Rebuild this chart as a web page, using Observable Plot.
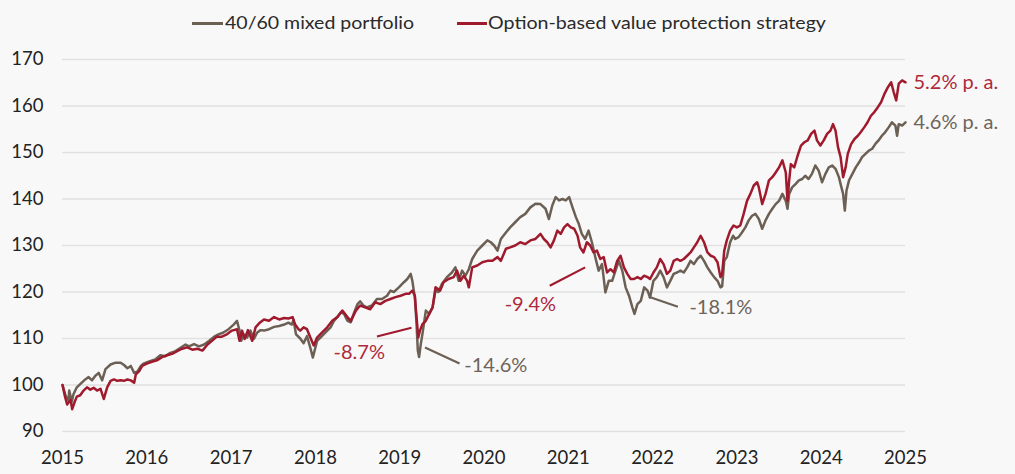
<!DOCTYPE html>
<html>
<head>
<meta charset="utf-8">
<script src="https://cdn.jsdelivr.net/npm/d3@7"></script>
<script src="https://cdn.jsdelivr.net/npm/@observablehq/plot@0.6"></script>
<style>
  html, body { margin: 0; padding: 0; background: #f8f8f8; }
  #chart { width: 1015px; }
  #legend { position: relative; width: 1015px; height: 45px; font-family: Lato, 'Open Sans', sans-serif; font-size: 17.5px; color: #2a2a2a; }
  #legend .sw { position: absolute; top: 22px; height: 3px; }
  #legend .lb { position: absolute; top: 13.5px; line-height: 17.5px; white-space: nowrap; transform-origin: 0 50%; }
</style>
</head>
<body>
<div id="chart"></div>
<script>
// ---- data (decimal year, index value) ----
const seriesNames = ["40/60 mixed portfolio", "Option-based value protection strategy"];
const xTicks = [2015, 2016, 2017, 2018, 2019, 2020, 2021, 2022, 2023, 2024, 2025];
const yTicks = [90, 100, 110, 120, 130, 140, 150, 160, 170];
const endLabels = ["4.6% p. a.", "5.2% p. a."];

const mixed = [
[2015.00,100],[2015.04,97.5],[2015.07,96.8],[2015.08,98.8],[2015.11,96.4],[2015.13,98],[2015.17,99.5],[2015.21,100.2],[2015.27,101.2],[2015.31,101.7],[2015.35,101],[2015.39,102],[2015.43,102.6],[2015.47,101],[2015.51,103.4],[2015.57,104.4],[2015.63,104.8],[2015.69,104.8],[2015.73,104.3],[2015.77,103.6],[2015.81,104.1],[2015.85,102.6],[2015.89,102.9],[2015.93,104.1],[2015.96,104.6],
[2016.02,105],[2016.10,105.5],[2016.16,106.4],[2016.22,106.2],[2016.28,106.9],[2016.34,107.3],[2016.40,108],[2016.46,108.7],[2016.50,108.3],[2016.56,108.8],[2016.62,108.3],[2016.68,108.7],[2016.74,109.5],[2016.80,110.4],[2016.85,110.9],[2016.91,111.3],[2016.97,112],
[2017.03,113],[2017.07,113.8],[2017.10,111.7],[2017.12,109.5],[2017.15,110.9],[2017.19,110.2],[2017.23,111.7],[2017.27,109.9],[2017.31,111.3],[2017.35,111.8],[2017.39,111.7],[2017.45,112],[2017.51,112.5],[2017.57,112.7],[2017.63,113],[2017.68,113.4],[2017.72,113],[2017.74,114],[2017.77,110.9],[2017.82,110],[2017.86,109],[2017.90,110.5],[2017.94,108],[2017.97,105.9],
[2018.02,109.5],[2018.06,110.2],[2018.12,111.3],[2018.18,112.4],[2018.22,113.8],[2018.26,114.6],[2018.30,115.6],[2018.34,115.3],[2018.38,113.8],[2018.42,113.5],[2018.46,115.6],[2018.50,117.4],[2018.53,118],[2018.57,117.1],[2018.61,116.7],[2018.67,117.1],[2018.73,118.5],[2018.79,118.5],[2018.85,119.2],[2018.89,120.3],[2018.93,120],[2018.99,121],
[2019.05,122.1],[2019.09,122.8],[2019.13,123.9],[2019.15,122.4],[2019.18,118.8],[2019.20,113.1],[2019.215,107.4],[2019.23,106],[2019.25,108.8],[2019.27,111],[2019.31,116],[2019.35,115.3],[2019.39,116.7],[2019.425,120.3],[2019.46,120],[2019.50,121.7],[2019.56,123.2],[2019.62,124.2],[2019.66,125.3],[2019.70,122.4],[2019.74,124.6],[2019.78,123.5],[2019.82,124.9],[2019.86,127.1],[2019.92,128.9],[2019.98,130],
[2020.04,131.1],[2020.08,130.7],[2020.12,130],[2020.16,128.9],[2020.20,131.4],[2020.26,132.8],[2020.31,133.9],[2020.37,135],[2020.43,136.1],[2020.49,136.8],[2020.55,138.2],[2020.61,139],[2020.67,138.9],[2020.73,137.9],[2020.77,135.7],[2020.81,138.6],[2020.85,140.4],[2020.89,139.7],[2020.93,140],[2020.97,139.7],
[2021.01,140.4],[2021.05,138.2],[2021.09,136.1],[2021.125,134.6],[2021.16,132.5],[2021.20,131.4],[2021.24,133.2],[2021.28,130.7],[2021.32,127.5],[2021.36,124.6],[2021.40,126],[2021.44,119.9],[2021.48,122.4],[2021.52,122.4],[2021.56,124.6],[2021.60,126.7],[2021.64,124.6],[2021.68,121],[2021.72,119.2],[2021.76,116.7],[2021.785,115.3],[2021.82,117.4],[2021.86,118.1],[2021.90,121],[2021.94,120.3],[2021.97,118.8],
[2022.01,122.4],[2022.05,123.2],[2022.09,124.6],[2022.13,123.2],[2022.17,121],[2022.21,122.4],[2022.25,123.9],[2022.29,124.2],[2022.33,124.6],[2022.37,124.2],[2022.41,125.3],[2022.45,126.7],[2022.49,126],[2022.53,127.1],[2022.57,127.8],[2022.61,126.7],[2022.65,125.3],[2022.69,124.2],[2022.73,123.2],[2022.77,122.4],[2022.805,121],[2022.825,121.2],[2022.85,126.7],[2022.88,127.5],[2022.92,130.7],[2022.955,132.1],[2022.98,131.4],
[2023.02,131.8],[2023.06,132.8],[2023.10,133.9],[2023.14,135.4],[2023.18,136.4],[2023.22,136.8],[2023.26,135.7],[2023.30,133.6],[2023.34,135.4],[2023.38,136.8],[2023.42,137.9],[2023.46,138.9],[2023.50,139.6],[2023.54,141.1],[2023.58,139.6],[2023.60,137.9],[2023.62,141.1],[2023.655,142.5],[2023.695,143.2],[2023.735,144],[2023.775,144.3],[2023.81,145],[2023.85,144.3],[2023.89,145.4],[2023.93,147.2],[2023.97,146.1],
[2024.01,143.6],[2024.05,145.4],[2024.09,146.8],[2024.13,147.2],[2024.17,146.5],[2024.21,144.7],[2024.24,142.5],[2024.26,141.1],[2024.28,137.5],[2024.30,141.8],[2024.33,144],[2024.37,145.4],[2024.41,146.8],[2024.45,147.9],[2024.485,149],[2024.525,149.7],[2024.565,150.4],[2024.605,150.8],[2024.645,151.9],[2024.68,152.6],[2024.72,153.6],[2024.76,154.4],[2024.80,155.4],[2024.84,156.5],[2024.88,155.8],[2024.90,153.6],[2024.92,156.1],[2024.96,155.8],[2025.00,156.5]
];

const option = [
[2015.00,100],[2015.03,97.5],[2015.055,95.8],[2015.095,96.8],[2015.115,94.8],[2015.145,96.4],[2015.17,97.5],[2015.21,97.8],[2015.25,98.8],[2015.29,99.5],[2015.33,99],[2015.37,99.4],[2015.41,98.8],[2015.45,99.2],[2015.49,97],[2015.53,99.5],[2015.57,100.9],[2015.61,101.2],[2015.65,100.9],[2015.69,101],[2015.73,100.9],[2015.77,101.2],[2015.81,101],[2015.85,100.5],[2015.87,102.3],[2015.91,103],[2015.945,104.1],
[2016.00,104.6],[2016.06,105],[2016.12,105.3],[2016.18,106],[2016.24,106.4],[2016.30,106.7],[2016.36,107.3],[2016.42,107.8],[2016.48,108.1],[2016.54,107.6],[2016.60,107.8],[2016.66,107.4],[2016.72,108.7],[2016.78,109.6],[2016.83,110.4],[2016.89,110.4],[2016.95,110.9],
[2017.01,111.7],[2017.07,112],[2017.10,109.5],[2017.13,111.7],[2017.16,109.9],[2017.20,111.8],[2017.25,109.5],[2017.29,112.4],[2017.34,113.4],[2017.39,114.1],[2017.45,113.8],[2017.51,114.6],[2017.57,114.1],[2017.63,114.4],[2017.68,114.3],[2017.73,114.6],[2017.76,113],[2017.80,112],[2017.82,111.7],[2017.86,112.4],[2017.90,112],[2017.94,110.2],[2017.98,108.5],
[2018.02,110.2],[2018.08,111.3],[2018.14,112.4],[2018.20,113.8],[2018.26,114.6],[2018.32,116],[2018.38,114.6],[2018.42,113.8],[2018.48,116],[2018.53,117.1],[2018.59,116.7],[2018.65,116.3],[2018.71,117.8],[2018.77,117.4],[2018.83,118.1],[2018.89,118.5],[2018.95,118.9],
[2019.01,119.2],[2019.07,119.6],[2019.11,119.6],[2019.15,120.3],[2019.18,119.2],[2019.19,116.7],[2019.21,112.4],[2019.22,110.2],[2019.24,111.7],[2019.27,113.1],[2019.31,113.8],[2019.35,115.3],[2019.39,116.7],[2019.425,121],[2019.48,120.3],[2019.52,122.1],[2019.58,122.8],[2019.64,123.2],[2019.68,124.6],[2019.72,122.4],[2019.76,123.5],[2019.80,122.4],[2019.82,121],[2019.86,125.3],[2019.92,125.7],[2019.98,126.4],
[2020.04,126.7],[2020.10,126.7],[2020.16,127.5],[2020.20,126.7],[2020.26,129.3],[2020.31,129.6],[2020.37,130],[2020.43,130.7],[2020.49,130.3],[2020.55,131.1],[2020.61,131.4],[2020.67,132.5],[2020.71,131.4],[2020.75,130.7],[2020.79,129.6],[2020.83,131.1],[2020.87,133.2],[2020.91,132.5],[2020.95,133.9],[2020.99,134.6],
[2021.03,133.9],[2021.07,133.6],[2021.11,132.1],[2021.14,129.6],[2021.18,128.5],[2021.22,130.7],[2021.26,130],[2021.30,128.5],[2021.34,128.9],[2021.38,127.1],[2021.42,127.5],[2021.46,124.2],[2021.50,124.9],[2021.54,124.2],[2021.58,126.7],[2021.62,127.8],[2021.66,125.3],[2021.70,123.9],[2021.74,122.8],[2021.78,122.8],[2021.82,123.2],[2021.86,122.8],[2021.90,123.5],[2021.94,123.2],[2021.97,122.8],
[2022.01,124.2],[2022.05,125.3],[2022.09,127.1],[2022.13,126],[2022.17,123.9],[2022.21,124.6],[2022.25,126.7],[2022.29,127.1],[2022.33,126.7],[2022.37,127.1],[2022.41,127.8],[2022.45,128.5],[2022.49,129.6],[2022.53,130.7],[2022.57,132.1],[2022.61,130.7],[2022.65,128.5],[2022.69,127.8],[2022.73,127.5],[2022.77,126.4],[2022.805,123.2],[2022.825,123.9],[2022.85,128.9],[2022.88,131.1],[2022.92,133.2],[2022.96,134.3],
[2023.00,133.9],[2023.04,134.3],[2023.08,136.8],[2023.12,139.6],[2023.16,141.1],[2023.20,142.9],[2023.24,143.6],[2023.26,142.5],[2023.30,138.9],[2023.34,141.1],[2023.38,144],[2023.42,144.7],[2023.46,145.7],[2023.50,146.8],[2023.54,148.3],[2023.58,145.7],[2023.60,139.6],[2023.62,144],[2023.64,147.5],[2023.68,146.8],[2023.72,149.3],[2023.76,151.5],[2023.80,152.2],[2023.84,152.6],[2023.88,154],[2023.92,154.7],[2023.95,152.6],[2023.99,151.5],
[2024.03,152.6],[2024.07,154],[2024.11,154.7],[2024.14,156.1],[2024.17,154.7],[2024.20,151.1],[2024.23,149],[2024.26,144.7],[2024.29,146.8],[2024.315,149.7],[2024.355,151.8],[2024.395,152.9],[2024.435,153.6],[2024.47,154.4],[2024.51,155.4],[2024.55,156.5],[2024.59,157.9],[2024.63,158.7],[2024.67,159.7],[2024.71,160.8],[2024.75,162.6],[2024.79,164],[2024.83,165.1],[2024.86,163],[2024.89,161.2],[2024.92,164.8],[2024.96,165.5],[2025.00,165.1]
];

// drawdown annotations: label, series index, label anchor (year, value), leader start/end (year, value)
const drawdownLabels = ["-8.7%", "-14.6%", "-9.4%", "-18.1%"];
const drawdownSeries = [1, 0, 1, 0];
const drawdownAnchor = [[2018.52, 106.9], [2020.14, 104.1], [2020.55, 117.3], [2022.81, 116.7]];
const drawdownLeader = [
  [[2018.73, 110.44], [2019.14, 112.32]],
  [[2019.30, 108.08], [2019.71, 104.63]],
  [[2020.78, 121.36], [2021.20, 125.3]],
  [[2021.955, 118.99], [2022.30, 116.84]]
];

// ---- build ----
const lineColors = ["#6c6055", "#a01a2e"];
const textColors = ["#6e645a", "#ad2a3c"];

const rows = [
  ...mixed.map(([t, v]) => ({t, v, s: 0})),
  ...option.map(([t, v]) => ({t, v, s: 1}))
];
const ann = drawdownLabels.map((label, i) => ({
  label, s: drawdownSeries[i],
  tx: drawdownAnchor[i][0], ty: drawdownAnchor[i][1],
  x1: drawdownLeader[i][0][0], y1: drawdownLeader[i][0][1],
  x2: drawdownLeader[i][1][0], y2: drawdownLeader[i][1][1]
}));
const ends = [mixed[mixed.length - 1], option[option.length - 1]].map(([t, v], s) => ({t, v, s, label: endLabels[s]}));

const root = document.getElementById("chart");

// legend (HTML above the plot)
const legend = document.createElement("div");
legend.id = "legend";
root.appendChild(legend);
const legendItems = [
  {sx: 192, sw: 30.5, tx: 225, tw: 189, s: 0},
  {sx: 456.5, sw: 30, tx: 488, tw: 338, s: 1}
];
legendItems.forEach(it => {
  const sw = document.createElement("div");
  sw.className = "sw";
  sw.style.left = it.sx + "px";
  sw.style.width = it.sw + "px";
  sw.style.background = lineColors[it.s];
  legend.appendChild(sw);
  const lb = document.createElement("span");
  lb.className = "lb";
  lb.style.left = it.tx + "px";
  lb.textContent = seriesNames[it.s];
  legend.appendChild(lb);
  const w = lb.getBoundingClientRect().width;
  if (w > 0) lb.style.transform = `scaleX(${it.tw / w})`;
});

const chart = Plot.plot({
  width: 1015,
  height: 429,
  marginTop: 14,
  marginBottom: 43,
  marginLeft: 62,
  marginRight: 110,
  style: {background: "#f8f8f8", fontFamily: "Lato, 'Open Sans', sans-serif", fontSize: "18.5px", color: "#222"},
  x: {domain: [2015, 2025], ticks: xTicks, tickFormat: d => String(d), tickSize: 0, tickPadding: 19, label: null},
  y: {domain: [90, 170], ticks: yTicks, tickSize: 0, tickPadding: 19, label: null},
  marks: [
    Plot.ruleY(yTicks, {stroke: "#e1e1e1", strokeWidth: 1.6}),
    Plot.line(rows.filter(d => d.s === 0), {x: "t", y: "v", stroke: lineColors[0], strokeWidth: 2.5, strokeLinejoin: "round"}),
    Plot.line(rows.filter(d => d.s === 1), {x: "t", y: "v", stroke: lineColors[1], strokeWidth: 2.5, strokeLinejoin: "round"}),
    Plot.link(ann, {x1: "x1", y1: "y1", x2: "x2", y2: "y2", stroke: d => lineColors[d.s], strokeWidth: 2.2}),
    Plot.text(ann, {x: "tx", y: "ty", text: "label", fill: d => textColors[d.s], fontSize: 20, textAnchor: "middle"}),
    Plot.text(ends, {x: "t", y: "v", text: "label", fill: d => textColors[d.s], fontSize: 20, textAnchor: "start", dx: 8})
  ]
});

root.appendChild(chart);
</script>
</body>
</html>
